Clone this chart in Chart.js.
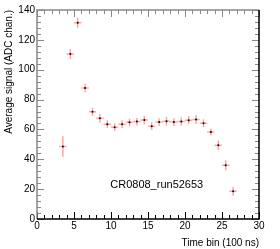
<!DOCTYPE html>
<html>
<head>
<meta charset="utf-8">
<script src="https://cdn.jsdelivr.net/npm/chart.js@4/dist/chart.umd.min.js"></script>
<style>
    html, body { margin: 0; padding: 0; background: #fff; }
    #contenedor { width: 280px; height: 249px; position: relative; }
</style>
</head>
<body>
<div id="contenedor"><canvas id="grafico"></canvas></div>
<script>
// Datos
const bins = [3.5, 4.5, 5.5, 6.5, 7.5, 8.5, 9.5, 10.5, 11.5, 12.5, 13.5, 14.5,
              15.5, 16.5, 17.5, 18.5, 19.5, 20.5, 21.5, 22.5, 23.5, 24.5, 25.5, 26.5];
const senal = [48.5, 110.5, 131.5, 87.7, 71.8, 67.5, 63.5, 61.5, 63.5, 64.8, 65.3, 66.3,
               62.2, 64.9, 65.5, 64.9, 65.3, 66.2, 66.7, 64.2, 58.2, 49.4, 36.0, 18.6];
const errorY = [7, 3.4, 3.4, 3, 2.8, 2.8, 2.6, 2.6, 2.6, 2.6, 2.6, 2.8,
                2.6, 2.6, 2.8, 2.6, 2.8, 2.8, 3, 2.6, 2.4, 3.2, 3.4, 3];
const errorX = 0.5;
const etiquetaRun = 'CR0808_run52653';
const tituloX = 'Time bin (100 ns)';
const tituloY = 'Average signal (ADC chan.)';

// Colores
const COLORES = {
    error: 'rgba(255, 60, 60, 0.45)',
    punto: '#000',
    ejeGris: '#888',
    ejeNegro: '#000'
};

const FUENTE = 'Liberation Sans, Arial, sans-serif';

// Plugin para las barras de error
const barrasError = {
    id: 'barrasError',
    beforeDatasetsDraw(chart) {
        const ctx = chart.ctx;
        const x = chart.scales.x;
        const y = chart.scales.y;
        ctx.save();
        ctx.strokeStyle = COLORES.error;
        ctx.lineWidth = 1.5;
        bins.forEach((b, i) => {
            const px = x.getPixelForValue(b);
            const py = y.getPixelForValue(senal[i]);
            ctx.beginPath();
            ctx.moveTo(x.getPixelForValue(b - errorX), py);
            ctx.lineTo(x.getPixelForValue(b + errorX), py);
            ctx.moveTo(px, y.getPixelForValue(senal[i] - errorY[i]));
            ctx.lineTo(px, y.getPixelForValue(senal[i] + errorY[i]));
            ctx.stroke();
        });
        ctx.restore();
    }
};

// Plugin para el marco, las marcas de los ejes y el texto
const marcoRoot = {
    id: 'marcoRoot',
    afterDraw(chart) {
        const ctx = chart.ctx;
        const area = chart.chartArea;
        const x = chart.scales.x;
        const y = chart.scales.y;
        ctx.save();

        // Marcas en el eje X (abajo y arriba)
        ctx.lineWidth = 1;
        for (let v = 0; v <= 30; v++) {
            const px = Math.round(x.getPixelForValue(v)) + 0.5;
            const largo = v % 5 === 0 ? 7 : 4;
            ctx.strokeStyle = COLORES.ejeNegro;
            ctx.beginPath();
            ctx.moveTo(px, area.bottom);
            ctx.lineTo(px, area.bottom - largo);
            ctx.stroke();
            ctx.strokeStyle = COLORES.ejeGris;
            ctx.beginPath();
            ctx.moveTo(px, area.top);
            ctx.lineTo(px, area.top + largo);
            ctx.stroke();
        }

        // Marcas en el eje Y (izquierda y derecha)
        for (let v = 0; v <= 140; v += 4) {
            const py = Math.round(y.getPixelForValue(v)) + 0.5;
            const largo = v % 20 === 0 ? 7 : 4;
            ctx.strokeStyle = COLORES.ejeGris;
            ctx.beginPath();
            ctx.moveTo(area.left, py);
            ctx.lineTo(area.left + largo, py);
            ctx.stroke();
            ctx.beginPath();
            ctx.moveTo(area.right, py);
            ctx.lineTo(area.right - largo, py);
            ctx.stroke();
        }

        // Marco
        ctx.lineWidth = 1.5;
        ctx.strokeStyle = COLORES.ejeGris;
        ctx.beginPath();
        ctx.moveTo(area.left, area.bottom);
        ctx.lineTo(area.left, area.top);
        ctx.lineTo(area.right, area.top);
        ctx.stroke();
        ctx.strokeStyle = COLORES.ejeNegro;
        ctx.beginPath();
        ctx.moveTo(area.left, area.bottom);
        ctx.lineTo(area.right, area.bottom);
        ctx.lineTo(area.right, area.top);
        ctx.stroke();

        // Etiqueta del run
        ctx.fillStyle = '#000';
        ctx.font = '11px ' + FUENTE;
        ctx.textAlign = 'left';
        ctx.textBaseline = 'middle';
        ctx.fillText(etiquetaRun, x.getPixelForValue(9.9), y.getPixelForValue(22.5));

        ctx.restore();
    }
};

const ctx = document.getElementById('grafico').getContext('2d');
const grafico = new Chart(ctx, {
    type: 'scatter',
    data: {
        datasets: [{
            data: bins.map((b, i) => ({ x: b, y: senal[i] })),
            pointBackgroundColor: COLORES.punto,
            pointBorderColor: COLORES.punto,
            pointRadius: 1,
            pointBorderWidth: 0,
            showLine: false
        }]
    },
    options: {
        responsive: true,
        maintainAspectRatio: false,
        animation: false,
        layout: {
            padding: { top: 10, right: 21, left: 0, bottom: 0 }
        },
        plugins: {
            legend: { display: false },
            tooltip: { enabled: false }
        },
        scales: {
            x: {
                type: 'linear',
                min: 0,
                max: 30,
                grid: { display: false, drawTicks: false },
                border: { display: false },
                ticks: {
                    stepSize: 5,
                    padding: 1,
                    color: '#000',
                    font: { family: FUENTE, size: 10 }
                },
                title: {
                    display: true,
                    text: tituloX,
                    align: 'end',
                    color: '#000',
                    font: { family: FUENTE, size: 10 },
                    padding: { top: 3, bottom: 0 }
                },
                afterFit: function(escala) {
                    escala.height = 30;
                }
            },
            y: {
                min: 0,
                max: 140,
                grid: { display: false, drawTicks: false },
                border: { display: false },
                ticks: {
                    stepSize: 20,
                    padding: 2,
                    color: '#000',
                    font: { family: FUENTE, size: 10 }
                },
                title: {
                    display: true,
                    text: tituloY,
                    align: 'end',
                    color: '#000',
                    font: { family: FUENTE, size: 10 },
                    padding: { top: 3, bottom: 2 }
                },
                afterFit: function(escala) {
                    escala.width = 37;
                }
            }
        }
    },
    plugins: [barrasError, marcoRoot]
});
</script>
</body>
</html>
